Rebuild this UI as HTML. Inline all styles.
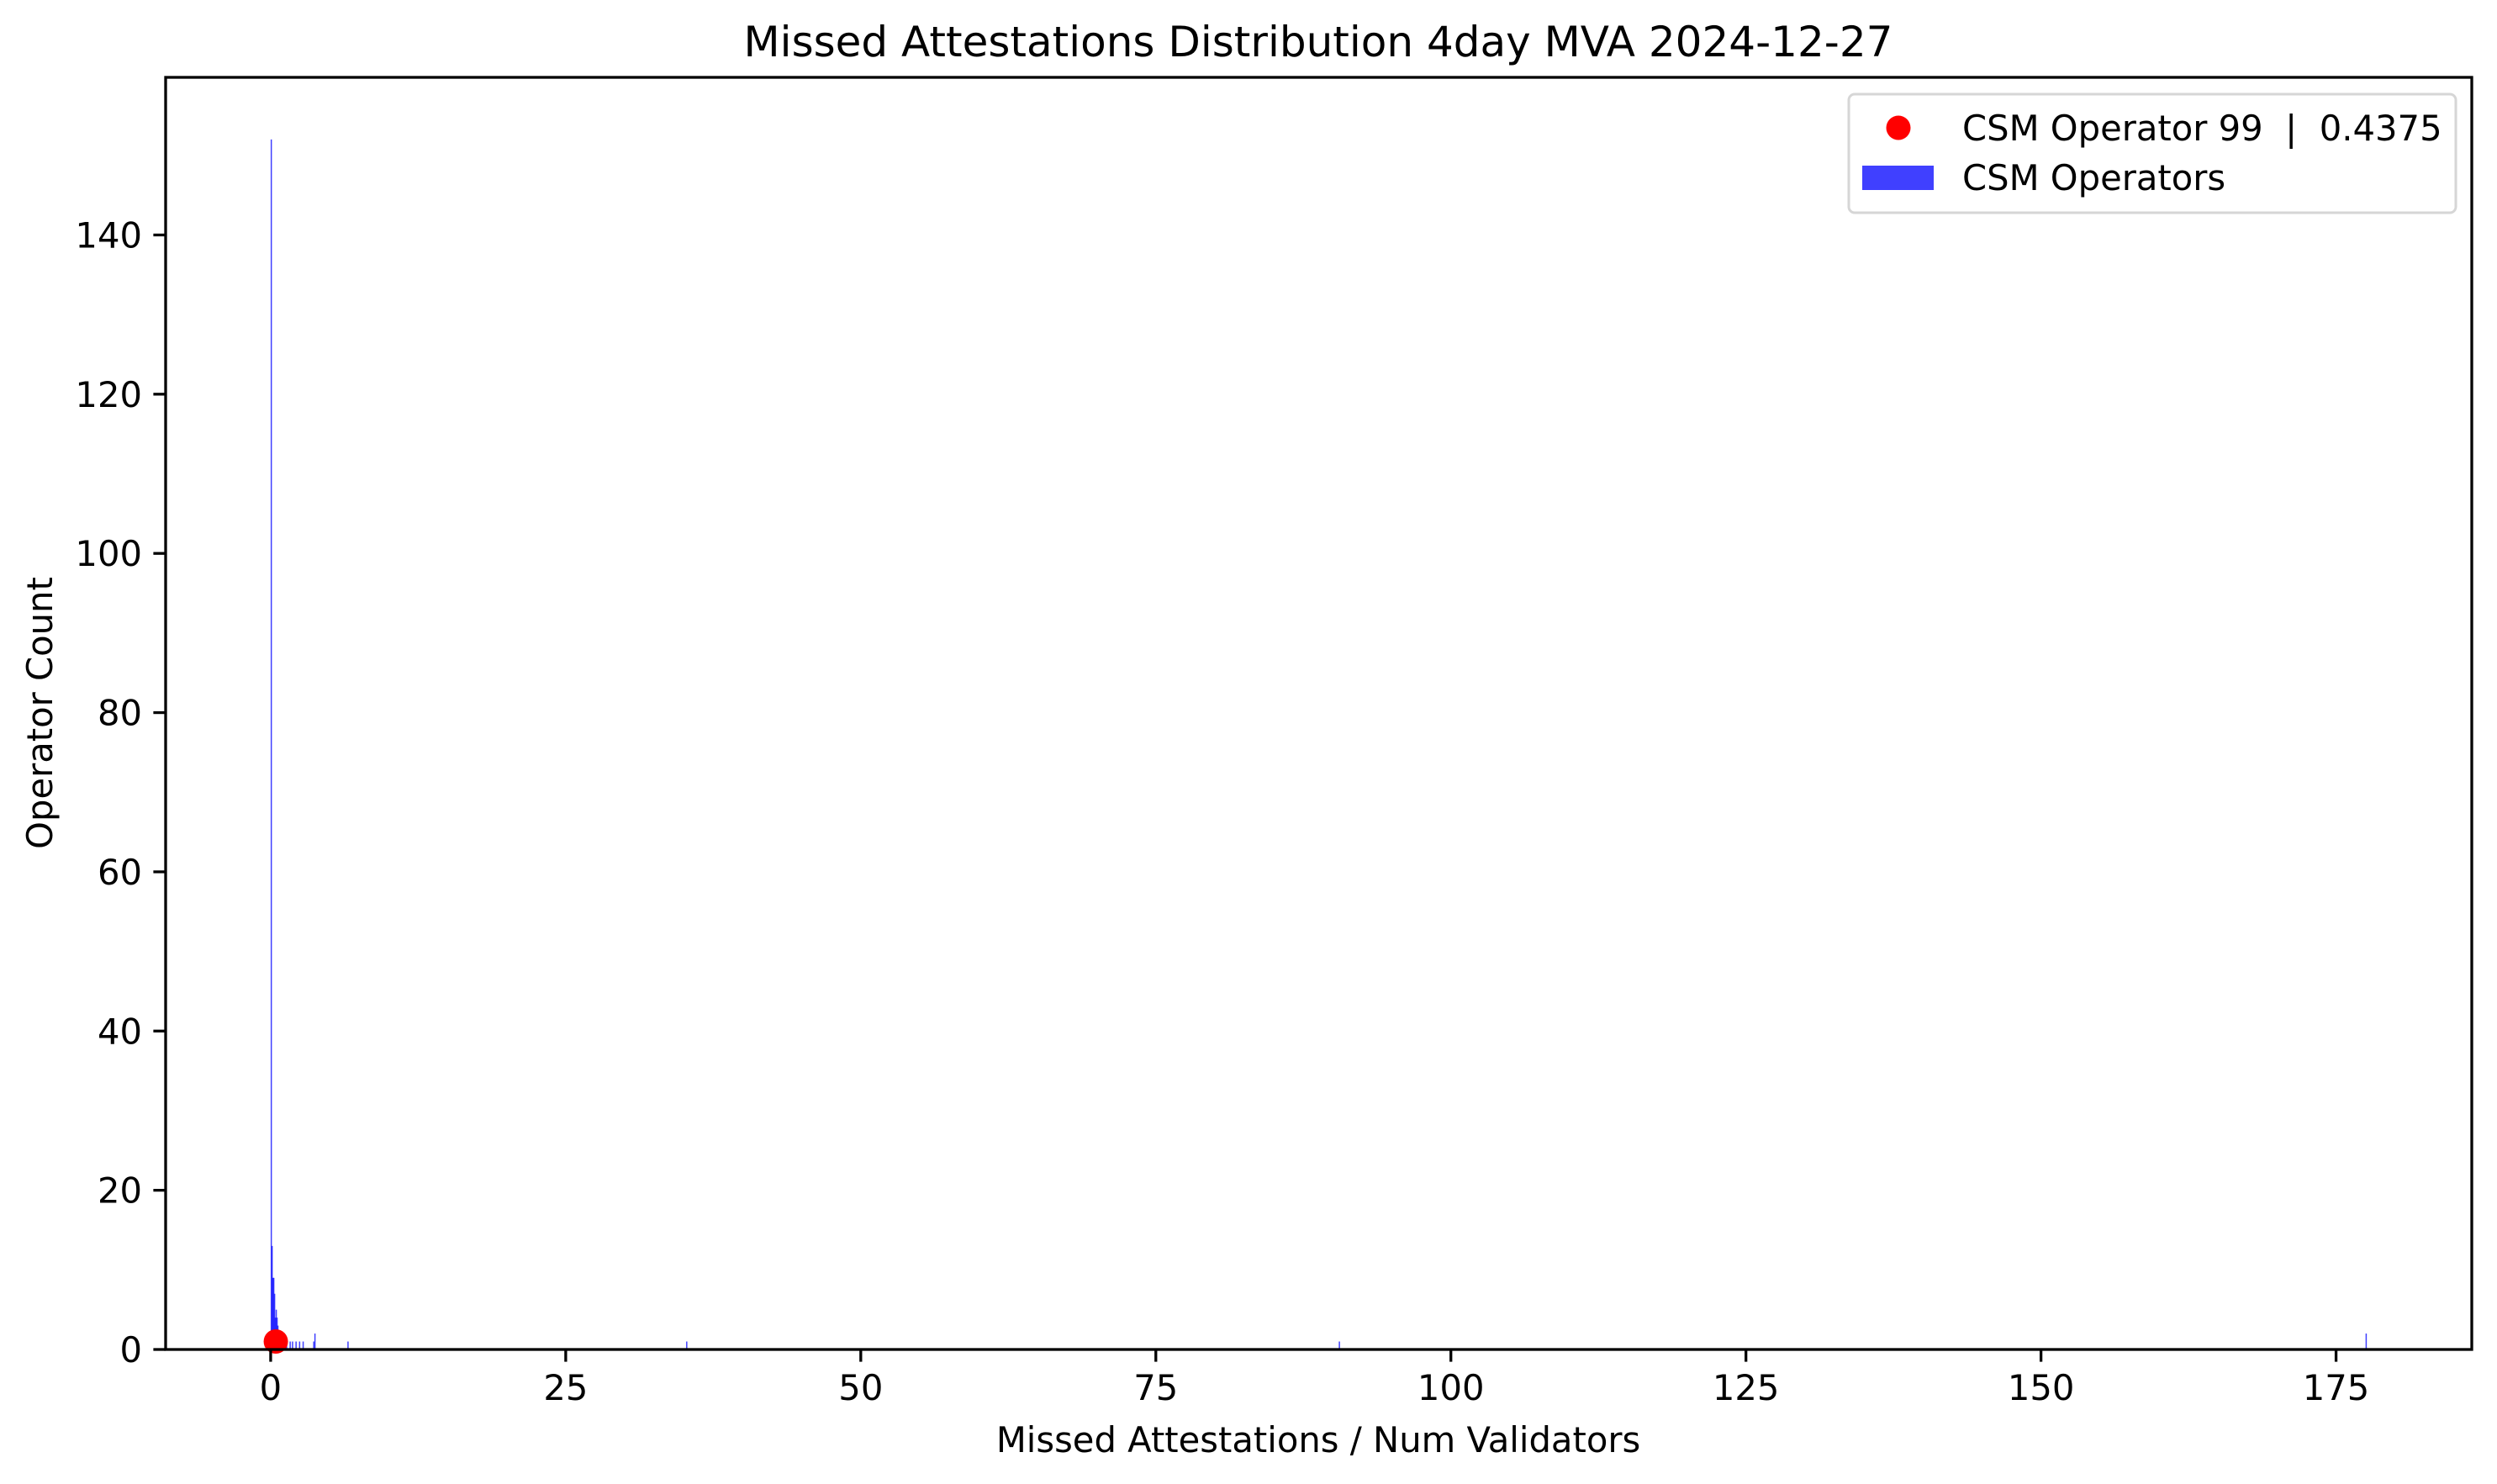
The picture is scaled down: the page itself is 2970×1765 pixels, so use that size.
<!DOCTYPE html>
<html><head><meta charset="utf-8"><style>
html,body{margin:0;padding:0;background:#fff;}
svg{display:block;font-family:"DejaVu Sans","Liberation Sans",sans-serif;}
text{white-space:pre;}
</style></head><body>
<svg id="chart" width="2970" height="1765" viewBox="0 0 2970 1765" xmlns="http://www.w3.org/2000/svg">
<rect width="2970" height="1765" fill="#fff"/>
<text x="1568" y="67" font-size="50" text-anchor="middle">Missed Attestations Distribution 4day MVA 2024-12-27</text>
<g id="bars"></g>
<g id="ticks"></g>
<rect x="197" y="92" width="2743" height="1513" fill="none" stroke="#000" stroke-width="3.3"/>
<text x="1568" y="1727" font-size="41.7" text-anchor="middle">Missed Attestations / Num Validators</text>
<text x="0" y="0" font-size="41.7" text-anchor="middle" transform="translate(62,848) rotate(-90)">Operator Count</text>
<g>
<rect x="2199" y="112" width="722" height="141" rx="7" fill="#fff" fill-opacity="0.8" stroke="#d6d6d6" stroke-width="3"/>
<circle cx="2258" cy="152" r="14.5" fill="#ff0000"/>
<text x="2334" y="167" font-size="41.7" xml:space="preserve">CSM Operator 99  |  0.4375</text>
<rect x="2215" y="197" width="85" height="29" fill="#4040ff"/>
<text x="2334" y="226" font-size="41.7">CSM Operators</text>
</g>
</svg>
<script>
const binStarts = [0.0,0.07,0.14,0.21,0.28,0.35,0.42,0.49,0.56,0.63,0.70,0.9,1.1,1.3,1.6,1.8,2.1,2.4,2.7,3.6,3.7,6.5,35.2,90.5,177.5];
const binCounts = [152,13,9,9,7,4,5,4,3,2,2,2,2,1,1,1,1,1,1,1,2,1,1,1,2];
const binWidth = 0.07;
const xTicks = [0,25,50,75,100,125,150,175];
const yTicks = [0,20,40,60,80,100,120,140];
const operatorValue = 0.4375;
const operatorCount = 1;

const NS = "http://www.w3.org/2000/svg";
const X0 = 197, X1 = 2940, Y0 = 1605, Y1 = 92;
const xMin = -8.9, xMax = 186.5, yMin = 0, yMax = 159.8;
const sx = v => X0 + (v - xMin) / (xMax - xMin) * (X1 - X0);
const sy = v => Y0 - (v - yMin) / (yMax - yMin) * (Y0 - Y1);

const bars = document.getElementById('bars');
binStarts.forEach((b, i) => {
  const r = document.createElementNS(NS, 'rect');
  const x = sx(b), w = Math.max(1.5, sx(b + binWidth) - x);
  r.setAttribute('x', x); r.setAttribute('y', sy(binCounts[i]));
  r.setAttribute('width', w); r.setAttribute('height', Y0 - sy(binCounts[i]));
  r.setAttribute('fill', '#0000ff'); r.setAttribute('fill-opacity', '0.75');
  
  
  bars.appendChild(r);
});
const dot = document.createElementNS(NS, 'circle');
dot.setAttribute('cx', sx(operatorValue)); dot.setAttribute('cy', sy(operatorCount));
dot.setAttribute('r', 14.5); dot.setAttribute('fill', '#ff0000');


bars.appendChild(dot);

const ticks = document.getElementById('ticks');
xTicks.forEach(t => {
  const x = sx(t);
  const l = document.createElementNS(NS, 'line');
  l.setAttribute('x1', x); l.setAttribute('x2', x); l.setAttribute('y1', Y0); l.setAttribute('y2', Y0 + 14.6);
  l.setAttribute('stroke', '#000'); l.setAttribute('stroke-width', '3.3');
  
  
  ticks.appendChild(l);
  const tx = document.createElementNS(NS, 'text');
  tx.setAttribute('x', x); tx.setAttribute('y', Y0 + 60);
  tx.setAttribute('font-size', '41.7'); tx.setAttribute('text-anchor', 'middle');
  tx.textContent = t;
  
  
  ticks.appendChild(tx);
});
yTicks.forEach(t => {
  const y = sy(t);
  const l = document.createElementNS(NS, 'line');
  l.setAttribute('x1', X0 - 14.6); l.setAttribute('x2', X0); l.setAttribute('y1', y); l.setAttribute('y2', y);
  l.setAttribute('stroke', '#000'); l.setAttribute('stroke-width', '3.3');
  
  
  ticks.appendChild(l);
  const tx = document.createElementNS(NS, 'text');
  tx.setAttribute('x', X0 - 28); tx.setAttribute('y', y + 15);
  tx.setAttribute('font-size', '41.7'); tx.setAttribute('text-anchor', 'end');
  tx.textContent = t;
  
  
  ticks.appendChild(tx);
});
</script>
</body></html>
